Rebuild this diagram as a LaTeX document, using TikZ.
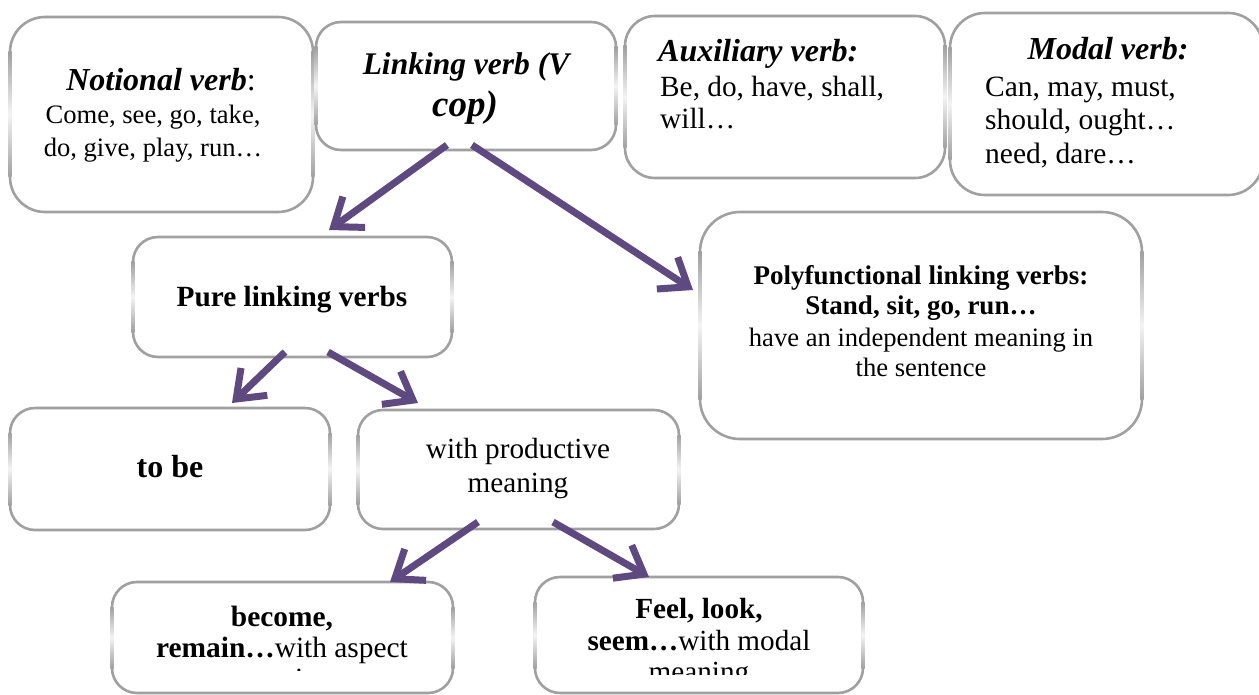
\documentclass[tikz,border=0pt]{standalone}
\usepackage{fontspec}
\setmainfont{Liberation Serif}
\usetikzlibrary{arrows.meta}
\definecolor{arr}{RGB}{94,74,128}
\definecolor{bord}{RGB}{160,160,160}
\newcommand\rbox[6]{%
  \node[boxst, rounded corners=#6pt, minimum width={(#4-#2)*1pt}, minimum height={(#5-#3)*1pt}] (#1) at ({(#2+#4)/2},{(#3+#5)/2}) {};
  \shade[top color=bord, bottom color=bord, middle color=bord!12] ({#2-1.6},{#3+#6}) rectangle ({#2+1.6},{#5-#6});
  \shade[top color=bord, bottom color=bord, middle color=bord!12] ({#4-1.6},{#3+#6}) rectangle ({#4+1.6},{#5-#6});
}
\tikzset{
  boxst/.style={draw=bord, line width=2.6pt, fill=white, inner sep=0pt},
  txt/.style={inner sep=0pt, anchor=base},
  ltxt/.style={inner sep=0pt, anchor=base west},
  arrowst/.style={draw=arr, line width=7pt, -{Straight Barb[length=25pt,width=38pt]}},
}
\newcommand\fs[1]{\fontsize{#1}{#1}\selectfont}
\begin{document}
\begin{tikzpicture}[x=1pt,y=-1pt]
\useasboundingbox (0,0) rectangle (1259,695);
% boxes
\rbox{notional}{10}{17}{313}{212}{35}
\rbox{link}{316}{22}{616}{150}{25}
\rbox{aux}{625}{16}{945}{178}{30}
\rbox{modal}{950}{13}{1263}{195}{35}
\rbox{pure}{133}{237}{452}{357}{25}
\rbox{poly}{700}{212}{1142}{439}{40}
\rbox{tobe}{10}{408}{330}{530}{25}
\rbox{prod}{358}{410}{679}{529}{25}
\rbox{become}{112}{582}{453}{693}{25}
\rbox{feel}{535}{577}{863}{693}{25}
% notional
\node[txt, font=\fs{32}\bfseries\itshape] (not1) at (161,91) {Notional verb\textup{\mdseries:}};
\node[txt, font=\fs{26.6}] (not2) at (153,124) {Come, see, go, take,};
\node[txt, font=\fs{26.6}] (not3) at (153,157) {do, give, play, run…};
% linking
\node[txt, font=\fs{31.5}\bfseries\itshape] (lin1) at (466,75) {Linking verb (V};
\node[txt, font=\fs{37}\bfseries\itshape] (lin2) at (465,117) {cop)};
% auxiliary
\node[ltxt, font=\fs{32}\bfseries\itshape] (aux1) at (658,62) {Auxiliary verb:};
\node[ltxt, font=\fs{29.3}] (aux2) at (660,97) {Be, do, have, shall,};
\node[ltxt, font=\fs{29.3}] (aux3) at (660,129) {will…};
% modal
\node[txt, font=\fs{32}\bfseries\itshape] (mod1) at (1108,60) {Modal verb:};
\node[ltxt, font=\fs{29.5}] (mod2) at (985,97) {Can, may, must,};
\node[ltxt, font=\fs{29.5}] (mod3) at (985,130) {should, ought…};
\node[ltxt, font=\fs{29.5}] (mod4) at (985,164) {need, dare…};
% pure, to be, productive
\node[txt, font=\fs{29.3}\bfseries] (tpure) at (292,306) {Pure linking verbs};
\node[txt, font=\fs{32}\bfseries] (ttobe) at (170,477) {to be};
\node[txt, font=\fs{29.2}] (prod1) at (518,458) {with productive};
\node[txt, font=\fs{29.2}] (prod2) at (518,492) {meaning};
% polyfunctional
\node[txt, font=\fs{27}\bfseries] (pol1) at (921,285) {Polyfunctional linking verbs:};
\node[txt, font=\fs{27}\bfseries] (pol2) at (921,314) {Stand, sit, go, run…};
\node[txt, font=\fs{26.6}] (pol3) at (921,346) {have an independent meaning in};
\node[txt, font=\fs{26.6}] (pol4) at (921,376) {the sentence};
% bottom boxes (text cut off by the box)
\begin{scope}
\clip (112,582) rectangle (453,670);
\node[txt, font=\fs{29.4}\bfseries] (bec1) at (282,626) {become,};
\node[txt, font=\fs{29.4}] (bec2) at (282,657) {\textbf{remain…}with aspect};
\node[txt, font=\fs{29.4}] (bec3) at (282,688) {meaning};
\end{scope}
\begin{scope}
\clip (535,577) rectangle (863,674);
\node[txt, font=\fs{29.2}\bfseries] (fee1) at (699,618) {Feel, look,};
\node[txt, font=\fs{29.2}] (fee2) at (699,650) {\textbf{seem…}with modal};
\node[txt, font=\fs{29.2}] (fee3) at (699,681) {meaning};
\end{scope}
% arrows
\coordinate (a1s) at (447,145); \coordinate (a1e) at (329,230);
\coordinate (a2s) at (472,145); \coordinate (a2e) at (693,290);
\coordinate (a3s) at (285,352); \coordinate (a3e) at (232,403);
\coordinate (a4s) at (328,352); \coordinate (a4e) at (418,403);
\coordinate (a5s) at (478,522); \coordinate (a5e) at (390,582);
\coordinate (a6s) at (553,522); \coordinate (a6e) at (649,577);
\draw[arrowst] (a1s) -- (a1e);
\draw[arrowst] (a2s) -- (a2e);
\draw[arrowst] (a3s) -- (a3e);
\draw[arrowst] (a4s) -- (a4e);
\draw[arrowst] (a5s) -- (a5e);
\draw[arrowst] (a6s) -- (a6e);
\end{tikzpicture}
\end{document}
